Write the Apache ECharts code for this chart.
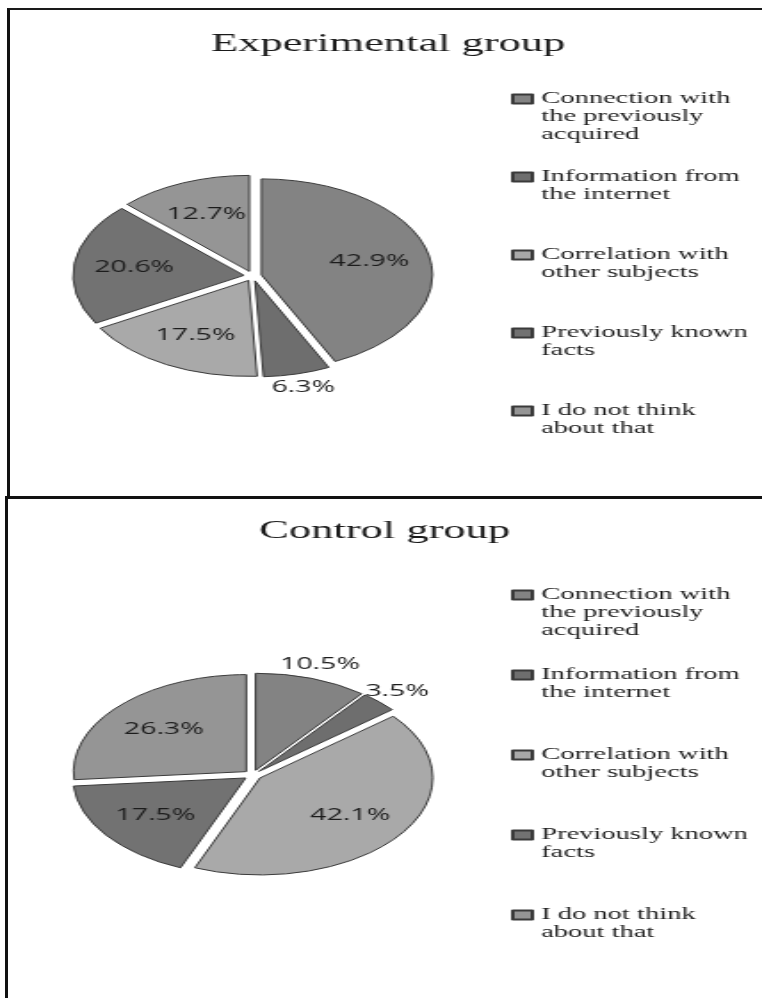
<!DOCTYPE html>
<html>
<head>
<meta charset="utf-8">
<script src="https://cdn.jsdelivr.net/npm/echarts@6/dist/echarts.min.js"></script>
<style>
  html, body { margin: 0; padding: 0; background: #fff; }
  body { width: 762px; height: 998px; position: relative; overflow: hidden; }
  /* the source picture is stretched sideways, so the chart is drawn narrow and widened */
  #chart { position: absolute; left: 0; top: 0; width: 428px; height: 998px;
           transform: scaleX(1.7804); transform-origin: 0 0; }
  .frame { position: absolute; box-sizing: border-box; }
  #topFrame { left: 7px; top: 8px; width: 770px; height: 491px;
              border-top: 2px solid #1a1a1a; border-left: 3px solid #111; border-bottom: 3px solid #111; }
  #bottomFrame { left: 5px; top: 496px; width: 10px; height: 510px; border-left: 3px solid #111; }
</style>
</head>
<body>
<div id="chart"></div>
<div class="frame" id="topFrame"></div>
<div class="frame" id="bottomFrame"></div>
<script>
const categories = [
  'Connection with the previously acquired',
  'Information from the internet',
  'Correlation with other subjects',
  'Previously known facts',
  'I do not think about that'
];
const legendLines = [
  ['Connection with', 'the previously', 'acquired'],
  ['Information from', 'the internet'],
  ['Correlation with', 'other subjects'],
  ['Previously known', 'facts'],
  ['I do not think', 'about that']
];
const titles = ['Experimental group', 'Control group'];
const experimentalValues = [42.9, 6.3, 17.5, 20.6, 12.7];
const controlValues = [10.5, 3.5, 42.1, 17.5, 26.3];

const sliceColors = ['#838383', '#6e6e6e', '#a9a9a9', '#727272', '#959595'];

// icon sits on the first line of each legend entry
function legendText(name) {
  const lines = legendLines[categories.indexOf(name)];
  const out = ['', ''].concat(lines);
  while (out.length < 5) out.push('');
  return out.join('\n');
}

function pctLabel(p) {
  return p.value.toFixed(1) + '%';
}

// transparent ring that only carries the percent labels
function labelRing(values, center, radius, keep) {
  return {
    type: 'pie',
    center: center,
    radius: radius,
    startAngle: 90,
    clockwise: true,
    silent: true,
    data: values.map((v, i) => ({ name: categories[i], value: v })),
    itemStyle: { color: 'transparent', borderWidth: 0 },
    label: {
      show: true,
      position: 'inside',
      formatter: p => keep(p.value) ? pctLabel(p) : '',
      fontFamily: 'Open Sans',
      fontSize: 16,
      color: '#1c1c1c'
    },
    labelLine: { show: false },
    emphasis: { disabled: true }
  };
}

function pieGroup(values, center, r) {
  return [
    {
      type: 'pie',
      center: center,
      radius: r,
      startAngle: 90,
      clockwise: true,
      color: sliceColors,
      selectedMode: 'multiple',
      selectedOffset: 5,
      data: values.map((v, i) => ({ name: categories[i], value: v, selected: true })),
      itemStyle: { borderColor: '#3a3a3a', borderWidth: 1 },
      select: { itemStyle: { borderColor: '#3a3a3a', borderWidth: 1 } },
      label: { show: false },
      labelLine: { show: false },
      emphasis: { disabled: true }
    },
    labelRing(values, center, r * 1.4 - 6, v => v >= 12),
    labelRing(values, center, r * 2.4 - 6, v => v < 12)
  ];
}

function legendBlock(top, gap) {
  return {
    orient: 'vertical',
    left: 287,
    top: top,
    padding: 0,
    itemGap: gap,
    itemWidth: 11,
    itemHeight: 9,
    icon: 'rect',
    selectedMode: false,
    data: categories,
    formatter: legendText,
    textStyle: {
      fontFamily: 'Liberation Serif',
      fontSize: 16,
      lineHeight: 18,
      color: '#1a1a1a'
    }
  };
}

const chart = echarts.init(document.getElementById('chart'));
chart.setOption({
  animation: false,
  title: [
    {
      text: titles[0], left: 218, top: 32, padding: 0, textAlign: 'center',
      textStyle: { fontFamily: 'Liberation Serif', fontSize: 25, fontWeight: 'normal', color: '#1a1a1a' }
    },
    {
      text: titles[1], left: 216, top: 519, padding: 0, textAlign: 'center',
      textStyle: { fontFamily: 'Liberation Serif', fontSize: 25, fontWeight: 'normal', color: '#1a1a1a' }
    }
  ],
  legend: [legendBlock(54, -12), legendBlock(550, -10)],
  series: pieGroup(experimentalValues, [142, 276], 96)
    .concat(pieGroup(controlValues, [142, 775], 97))
});
</script>
</body>
</html>
